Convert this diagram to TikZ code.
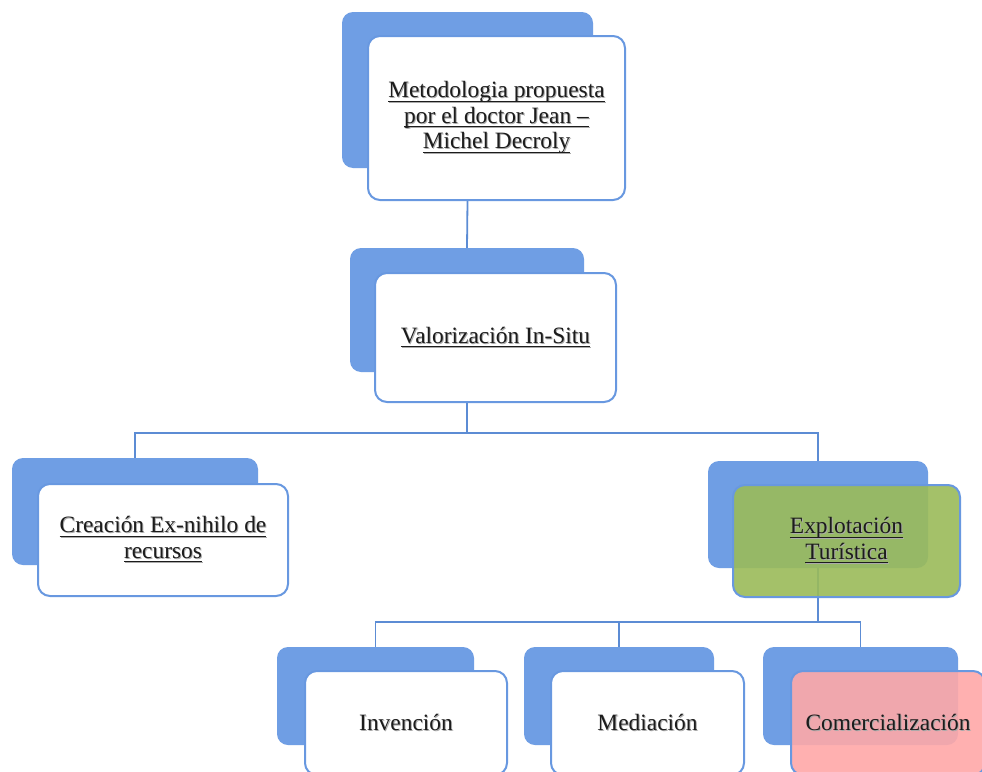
\documentclass[tikz,border=0pt]{standalone}
\usepackage{fontspec}
\setmainfont{Liberation Serif}

\definecolor{boxblue}{RGB}{111,158,228}
\definecolor{edgeblue}{RGB}{104,152,224}
\definecolor{wireblue}{RGB}{92,140,212}
\definecolor{leafgreen}{RGB}{155,187,89}
\definecolor{rosefill}{RGB}{255,168,168}
\definecolor{inkc}{RGB}{28,28,28}
\definecolor{shadowc}{RGB}{170,170,170}

% underlined text line with a fixed rule position
\newcommand\ulx[1]{\setbox0\hbox{#1}\rlap{\rule[-4.2pt]{\wd0}{1.1pt}}\box0}
% underlined line with a soft grey shadow
\newcommand\shl[1]{\leavevmode\rlap{\kern1pt\raisebox{-1pt}{\color{shadowc}\ulx{#1}}}\ulx{#1}}
% plain line with a soft grey shadow
\newcommand\shp[1]{\leavevmode\rlap{\kern1pt\raisebox{-1pt}{\color{shadowc}#1}}#1}

\pgfdeclarelayer{paper}
\pgfdeclarelayer{wires}
\pgfsetlayers{paper,wires,main}

\begin{document}
\begin{tikzpicture}[x=1pt,y=-1pt,
  backbox/.style={draw=none, fill=boxblue, rounded corners=11pt, inner sep=0pt},
  frontbox/.style={draw=edgeblue, line width=2pt, fill=white, rounded corners=12pt,
    inner sep=0pt, align=center, text=inkc, font=\fontsize{23.4}{25.5}\selectfont},
  wire/.style={draw=wireblue, line width=1.8pt}]
\clip (0,0) rectangle (982,771);
\begin{pgfonlayer}{paper}
  \fill[white] (0,0) rectangle (982,771);
\end{pgfonlayer}

% top level
\node[backbox, minimum width=251pt, minimum height=156pt] (topb) at (467.5,90) {};
\node[frontbox, minimum width=257pt, minimum height=164pt] (top) at (496.5,118)
  {\shl{Metodologia propuesta}\\\shl{por el doctor Jean –}\\\shl{Michel Decroly}};

% second level
\node[backbox, minimum width=234pt, minimum height=124pt] (valb) at (467,310) {};
\node[frontbox, minimum width=241pt, minimum height=129pt] (val) at (495.5,337.5)
  {\shl{Valorización In-Situ}};

% third level
\node[backbox, minimum width=246pt, minimum height=107pt] (creb) at (135,511.5) {};
\node[frontbox, minimum width=250pt, minimum height=112pt] (cre) at (163,540)
  {\shl{Creación Ex-nihilo de}\\\shl{recursos}};

\node[backbox, minimum width=220pt, minimum height=107pt] (expb) at (818,514.5) {};
\node[frontbox, fill=leafgreen, fill opacity=0.9, text opacity=1,
  minimum width=227pt, minimum height=112pt] (exp) at (846.5,541)
  {\shl{Explotación}\\\shl{Turística}};

% fourth level
\node[backbox, minimum width=197pt, minimum height=98pt] (invb) at (375.5,696) {};
\node[frontbox, minimum width=202pt, minimum height=104pt] (inv) at (406,723)
  {\shp{Invención}};

\node[backbox, minimum width=190pt, minimum height=98pt] (medb) at (619,696) {};
\node[frontbox, minimum width=193pt, minimum height=104pt] (med) at (647.5,723)
  {\shp{Mediación}};

\node[backbox, minimum width=195pt, minimum height=98pt] (comb) at (860.5,696) {};
\node[frontbox, fill=rosefill, fill opacity=0.9, text opacity=1,
  minimum width=194pt, minimum height=104pt] (com) at (888,723)
  {\shp{Comercialización}};

% connectors, kept beneath the boxes
\coordinate (busa) at (467,433);
\coordinate (busb) at (818,622);
\begin{pgfonlayer}{wires}
  \draw[wire] (topb.south |- top.south) -- (valb.north);
  \draw[wire] (valb.south |- val.south) -- (busa);
  \draw[wire] (busa) -| (creb.north);
  \draw[wire] (busa) -| (expb.north);
  \draw[wire] (expb.south) -- (busb);
  \draw[wire] (busb) -| (invb.north);
  \draw[wire] (busb) -| (medb.north);
  \draw[wire] (busb) -| (comb.north);
\end{pgfonlayer}
\end{tikzpicture}
\end{document}
